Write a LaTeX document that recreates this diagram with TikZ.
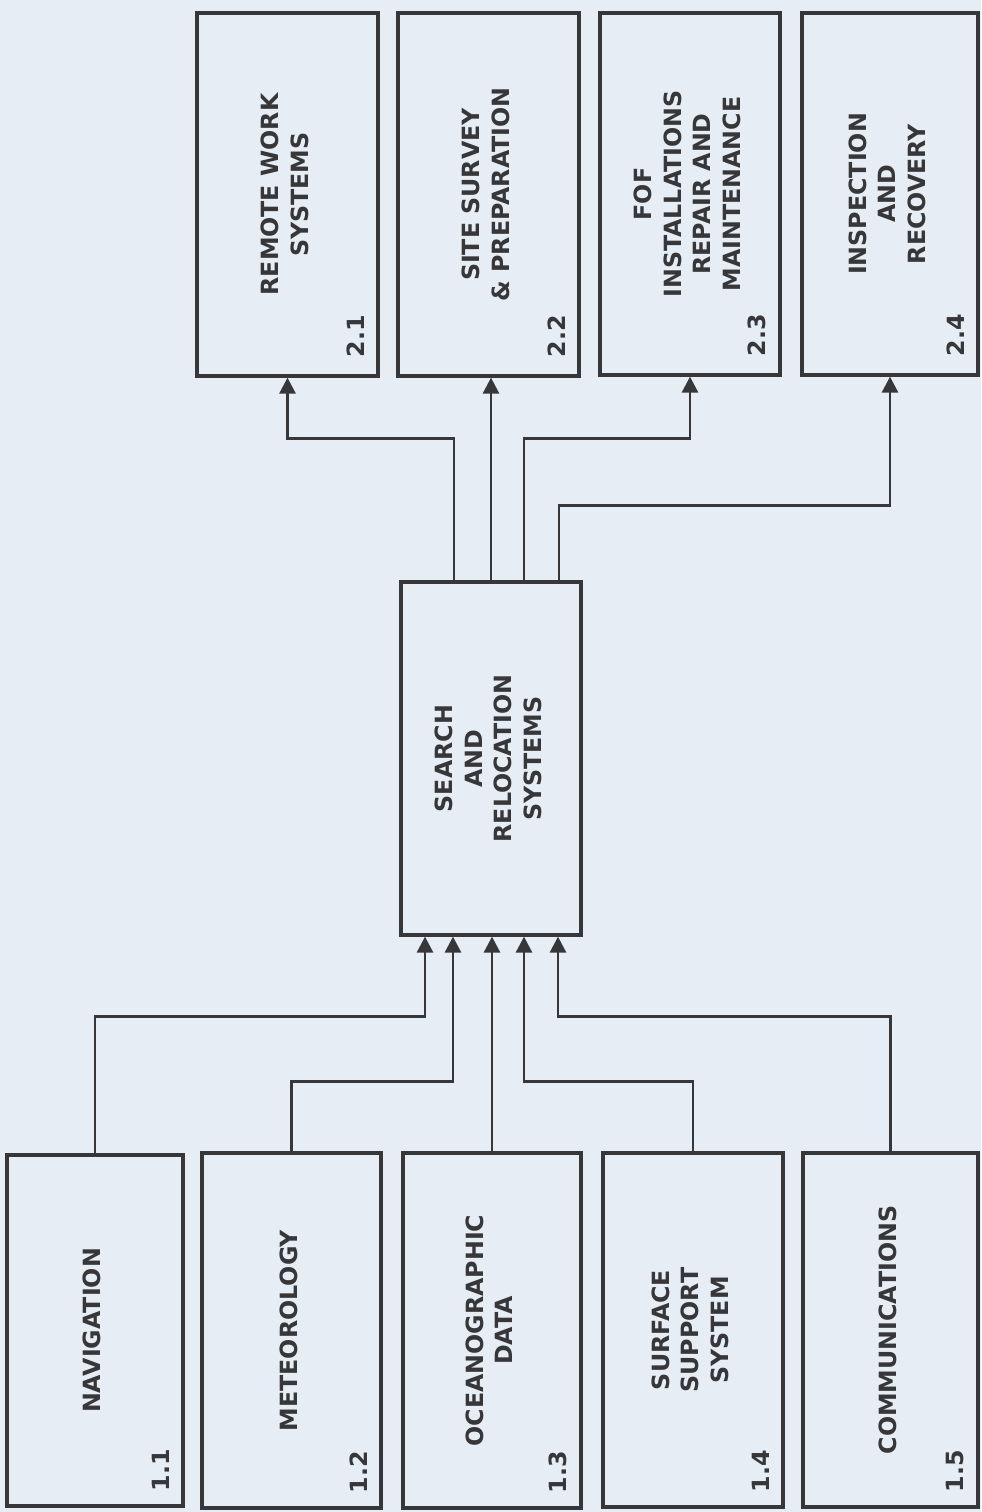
\documentclass[tikz,border=0pt]{standalone}
\usepackage{fontspec}
\setmainfont{DejaVu Sans}
\usepackage{graphicx}
\usetikzlibrary{arrows.meta,calc}
\definecolor{PaperClr}{RGB}{230,237,245}
\definecolor{InkClr}{RGB}{55,55,58}
\newcommand{\vlbl}[1]{\rotatebox{90}{\begin{tabular}{@{}c@{}}#1\end{tabular}}}

\tikzset{
  blockbox/.style={draw=InkClr,line width=1.9pt,inner sep=0pt,text=InkClr,
    font=\bfseries\fontsize{13.5}{17}\selectfont},
  numlbl/.style={rotate=90,anchor=south west,inner sep=0pt,text=InkClr,
    font=\bfseries\fontsize{13.5}{16}\selectfont},
  flow/.style={draw=InkClr,line width=1.6pt,-{Triangle[length=0.32cm,width=0.32cm]}}
}

\begin{document}
\begin{tikzpicture}[x=0.02cm,y=-0.02cm]
\fill[PaperClr] (0,0) rectangle (981,1512);

% output systems
\node[blockbox,minimum width=3.62cm,minimum height=7.26cm] (rem) at (287.5,194.5) {\vlbl{REMOTE WORK\\SYSTEMS}};
\node[blockbox,minimum width=3.62cm,minimum height=7.26cm] (site) at (488.5,194.5) {\vlbl{SITE SURVEY\\\& PREPARATION}};
\node[blockbox,minimum width=3.6cm,minimum height=7.24cm] (fof) at (690,194) {\vlbl{FOF\\INSTALLATIONS\\REPAIR AND\\MAINTENANCE}};
\node[blockbox,minimum width=3.52cm,minimum height=7.24cm] (insp) at (890,194) {\vlbl{INSPECTION\\AND\\RECOVERY}};

% central system
\node[blockbox,minimum width=3.6cm,minimum height=7.06cm] (srch) at (491,758.5) {\vlbl{SEARCH\\AND\\RELOCATION\\SYSTEMS}};

% input systems
\node[blockbox,minimum width=3.52cm,minimum height=7.02cm] (nav) at (95,1330.5) {\vlbl{NAVIGATION}};
\node[blockbox,minimum width=3.58cm,minimum height=7.1cm] (met) at (291.5,1330.5) {\vlbl{METEOROLOGY}};
\node[blockbox,minimum width=3.56cm,minimum height=7.1cm] (ocn) at (492,1330.5) {\vlbl{OCEANOGRAPHIC\\DATA}};
\node[blockbox,minimum width=3.6cm,minimum height=7.08cm] (surf) at (693,1330) {\vlbl{SURFACE\\SUPPORT\\SYSTEM}};
\node[blockbox,minimum width=3.5cm,minimum height=7.08cm] (comm) at (890.5,1330) {\vlbl{COMMUNICATIONS}};

% numbers
\node[numlbl] (n21) at ($(rem.south east)+(-15,-20)$) {2.1};
\node[numlbl] (n22) at ($(site.south east)+(-15,-20)$) {2.2};
\node[numlbl] (n23) at ($(fof.south east)+(-15,-20)$) {2.3};
\node[numlbl] (n24) at ($(insp.south east)+(-15,-20)$) {2.4};
\node[numlbl] (n11) at ($(nav.south east)+(-15,-16)$) {1.1};
\node[numlbl] (n12) at ($(met.south east)+(-15,-16)$) {1.2};
\node[numlbl] (n13) at ($(ocn.south east)+(-15,-16)$) {1.3};
\node[numlbl] (n14) at ($(surf.south east)+(-15,-16)$) {1.4};
\node[numlbl] (n15) at ($(comm.south east)+(-15,-16)$) {1.5};

% outputs
\draw[flow] ($(srch.north)+(-37,0)$) -- ++(0,-142) -| (rem.south);
\draw[flow] (srch.north) -- (srch.north |- site.south);
\draw[flow] ($(srch.north)+(33,0)$) -- ++(0,-142) -| (fof.south);
\draw[flow] ($(srch.north)+(68,0)$) -- ++(0,-75) -| (insp.south);

% inputs
\draw[flow] (nav.north) -- ++(0,-137) -| ($(srch.south)+(-66,0)$);
\draw[flow] (met.north) -- ++(0,-70) -| ($(srch.south)+(-38,0)$);
\draw[flow] (ocn.north) -- (ocn.north |- srch.south);
\draw[flow] (surf.north) -- ++(0,-70) -| ($(srch.south)+(33,0)$);
\draw[flow] (comm.north) -- ++(0,-135) -| ($(srch.south)+(67,0)$);

\end{tikzpicture}
\end{document}
